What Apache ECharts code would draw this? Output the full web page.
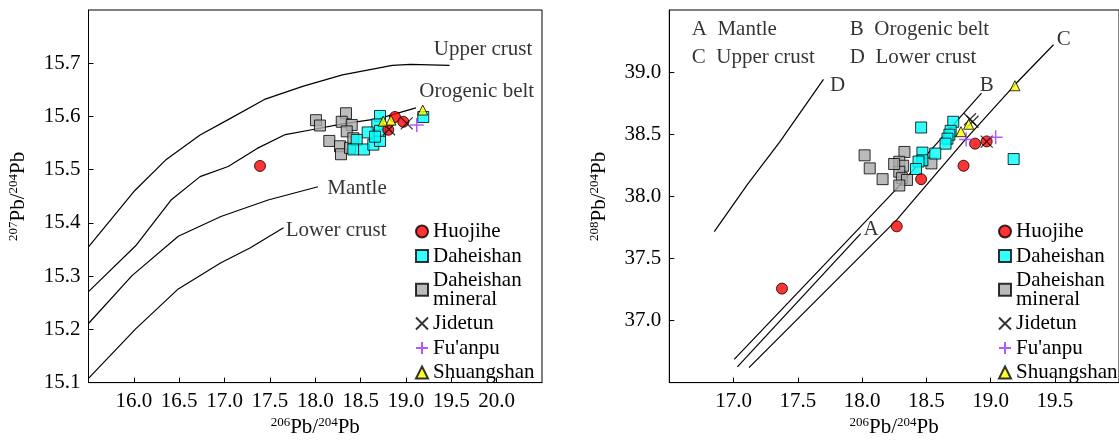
<!DOCTYPE html>
<html><head><meta charset="utf-8">
<script src="https://cdn.jsdelivr.net/npm/echarts@6/dist/echarts.min.js"></script>
<style>html,body{margin:0;padding:0;background:#fff}#c{width:1119px;height:443px}</style>
</head><body><div id="c"></div>
<script>
// ---- Left chart: 206Pb/204Pb vs 207Pb/204Pb ----
const upperCrustL = [[15.5,15.355],[16.0,15.459],[16.35,15.518],[16.73,15.565],[17.04,15.594],[17.44,15.632],[17.87,15.657],[18.30,15.678],[18.85,15.696],[19.05,15.698],[19.48,15.696]];
const orogeneL = [[15.5,15.271],[16.02,15.357],[16.41,15.443],[16.73,15.487],[17.04,15.506],[17.36,15.540],[17.67,15.566],[17.99,15.576],[18.30,15.586],[18.70,15.596],[19.11,15.616]];
const mantleL = [[15.5,15.211],[15.98,15.301],[16.49,15.375],[16.96,15.412],[17.48,15.443],[18.03,15.468]];
const lowerCrustL = [[15.5,15.108],[16.02,15.201],[16.49,15.276],[16.96,15.325],[17.28,15.353],[17.65,15.391]];
const curveLabelsL = [[19.85,15.726,'Upper crust'],[19.78,15.646,'Orogenic belt'],[18.46,15.465,'Mantle'],[18.23,15.385,'Lower crust']];

const huojiheL = [[17.391,15.507],[18.879,15.599],[18.971,15.590],[18.805,15.575]];
const daheishanL = [[18.714,15.601],[18.684,15.585],[18.578,15.570],[18.457,15.556],[18.42,15.538],[18.537,15.538],[18.64,15.547],[18.714,15.554],[18.714,15.573],[18.659,15.562],[19.191,15.599]];
const mineralL = [[18.008,15.593],[18.052,15.583],[18.339,15.606],[18.292,15.590],[18.402,15.584],[18.155,15.554],[18.347,15.572],[18.273,15.544],[18.284,15.529],[18.383,15.541],[18.42,15.559]];
const jidetunL = [[18.813,15.576],[19.008,15.587]];
const fuanpuL = [[19.119,15.584]];
const shuangshanL = [[19.185,15.612],[18.75,15.591],[18.835,15.593]];

// ---- Right chart: 206Pb/204Pb vs 208Pb/204Pb ----
const lineA = [[17.03,36.626],[17.99,37.70]];
const lineB = [[17.005,36.687],[18.08,37.854],[18.25,38.04],[18.93,38.83]];
const lineC = [[17.12,36.62],[18.27,37.81],[18.79,38.44],[19.20,38.91],[19.49,39.22]];
const lineD = [[16.85,37.716],[17.11,38.098],[17.36,38.438],[17.70,38.942]];
const lineLabelsR = [[18.07,37.73,'A'],[18.97,38.89,'B'],[19.57,39.26,'C'],[17.81,38.89,'D']];
const keyLabelsR = [[16.675,39.34,'A  Mantle'],[17.905,39.34,'B  Orogenic belt'],[16.675,39.12,'C  Upper crust'],[17.905,39.12,'D  Lower crust']];

const huojiheR = [[17.377,37.257],[18.27,37.758],[18.46,38.138],[18.79,38.246],[18.88,38.424],[18.97,38.442]];
const daheishanR = [[18.46,38.554],[18.71,38.60],[18.69,38.527],[18.68,38.496],[18.665,38.464],[18.65,38.424],[18.57,38.344],[18.47,38.352],[18.47,38.29],[18.44,38.28],[18.42,38.22],[19.18,38.30]];
const mineralR = [[18.02,38.33],[18.06,38.225],[18.16,38.138],[18.33,38.357],[18.29,38.278],[18.32,38.246],[18.29,38.198],[18.31,38.146],[18.35,38.132],[18.29,38.087],[18.54,38.265],[18.25,38.26]];
const jidetunR = [[18.84,38.62],[18.86,38.60],[18.97,38.44]];
const fuanpuR = [[18.81,38.458],[19.04,38.476]];
const shuangshanR = [[19.19,38.89],[18.83,38.58],[18.77,38.52]];

const legendNames = ['Huojihe','Daheishan','Daheishan\nmineral','Jidetun',"Fu'anpu",'Shuangshan'];

const F = 'Liberation Serif';
const XSYM = 'path://M0,0L10,10M10,0L0,10';
const PSYM = 'path://M5,0L5,10M0,5L10,5';

function nameStyle() {
  return {fontFamily: F, color: '#000', rich: {
    s: {fontFamily: F, color: '#000', fontSize: 13, lineHeight: 13, verticalAlign: 'top'},
    n: {fontFamily: F, color: '#000', fontSize: 21, lineHeight: 22}
  }};
}
function xAxis(idx, min, max, name) {
  return {gridIndex: idx, type: 'value', min: min, max: max, interval: 0.5,
    name: name, nameLocation: 'middle', nameGap: 30, nameTextStyle: nameStyle(),
    axisLine: {lineStyle: {color: '#000', width: 1}},
    axisTick: {inside: true, length: 5, lineStyle: {color: '#000'}},
    axisLabel: {showMinLabel: false, showMaxLabel: false, margin: 8, fontFamily: F, fontSize: 21, color: '#000',
      formatter: v => v.toFixed(1)},
    splitLine: {show: false}};
}
function yAxis(idx, min, max, interval, name, showMin) {
  return {gridIndex: idx, type: 'value', min: min, max: max, interval: interval,
    name: name, nameLocation: 'middle', nameGap: 59, nameRotate: 90, nameTextStyle: nameStyle(),
    axisLine: {lineStyle: {color: '#000', width: 1}},
    axisTick: {inside: true, length: 5, lineStyle: {color: '#000'}},
    axisLabel: {showMinLabel: showMin, showMaxLabel: false, margin: 8, fontFamily: F, fontSize: 21, color: '#000',
      formatter: v => v.toFixed(1)},
    splitLine: {show: false}};
}
function curve(idx, data) {
  return {type: 'line', xAxisIndex: idx, yAxisIndex: idx, data: data, smooth: false, symbol: 'none',
    lineStyle: {color: '#000', width: 1.2, join: 'round'}, silent: true, z: 1};
}
function textSeries(idx, data, align) {
  return {type: 'scatter', xAxisIndex: idx, yAxisIndex: idx, data: data, symbolSize: 1, silent: true,
    itemStyle: {color: 'rgba(0,0,0,0)'}, z: 3,
    label: {show: true, position: 'inside', align: align, verticalAlign: 'middle',
      formatter: p => p.value[2], fontFamily: F, fontSize: 21, color: '#000'}};
}
function pts(idx, name, data, kind) {
  const s = {type: 'scatter', name: name, xAxisIndex: idx, yAxisIndex: idx, data: data, silent: true};
  if (kind === 'circle') Object.assign(s, {symbol: 'circle', symbolSize: 11, z: 6, itemStyle: {color: '#ff0000', borderColor: '#000', borderWidth: 1}});
  if (kind === 'cyan') Object.assign(s, {symbol: 'rect', symbolSize: 11, z: 5, itemStyle: {color: '#00ffff', borderColor: '#000', borderWidth: 1}});
  if (kind === 'grey') Object.assign(s, {symbol: 'rect', symbolSize: 11, z: 4, itemStyle: {color: '#aaaaaa', borderColor: '#000', borderWidth: 1}});
  if (kind === 'x') Object.assign(s, {symbol: XSYM, symbolSize: 12, z: 7, itemStyle: {color: 'rgba(0,0,0,0)', borderColor: '#000', borderWidth: 1.2}});
  if (kind === 'plus') Object.assign(s, {symbol: PSYM, symbolSize: 14, z: 7, itemStyle: {color: 'rgba(0,0,0,0)', borderColor: '#a030ff', borderWidth: 1.5}});
  if (kind === 'tri') Object.assign(s, {symbol: 'triangle', symbolSize: 10, z: 8, itemStyle: {color: '#ffff00', borderColor: '#000', borderWidth: 1}});
  return s;
}
function legend(left) {
  return {orient: 'vertical', left: left, top: 221, padding: 0, itemGap: 3.5, itemWidth: 12, itemHeight: 12,
    data: legendNames, selectedMode: false,
    formatter: name => name.split('\n').map(s => '{a|' + s + '}').join('\n'),
    textStyle: {fontFamily: F, fontSize: 21, color: '#000',
      rich: {a: {fontFamily: F, fontSize: 21, color: '#000', lineHeight: 18.5}}}};
}

const nameX = '{s|206}{n|Pb/}{s|204}{n|Pb}';
const chart = echarts.init(document.getElementById('c'), null, {renderer: 'canvas'});
chart.setOption({
  animation: false,
  backgroundColor: '#fff',
  grid: [
    {left: 88.5, top: 10, width: 453.5, height: 378, show: true, borderColor: '#000', borderWidth: 1},
    {left: 669.3, top: 10, width: 455, height: 378, show: true, borderColor: '#000', borderWidth: 1}
  ],
  xAxis: [xAxis(0, 15.5, 20.5, nameX), xAxis(1, 16.5, 20.0, nameX)],
  yAxis: [yAxis(0, 15.1, 15.8, 0.1, '{s|207}{n|Pb/}{s|204}{n|Pb}', true), yAxis(1, 36.5, 39.5, 0.5, '{s|208}{n|Pb/}{s|204}{n|Pb}', false)],
  legend: [legend(415), legend(998)],
  series: [
    curve(0, upperCrustL), curve(0, orogeneL), curve(0, mantleL), curve(0, lowerCrustL),
    textSeries(0, curveLabelsL, 'center'),
    pts(0, 'Daheishan\nmineral', mineralL, 'grey'),
    pts(0, 'Daheishan', daheishanL, 'cyan'),
    pts(0, 'Huojihe', huojiheL, 'circle'),
    pts(0, 'Jidetun', jidetunL, 'x'),
    pts(0, "Fu'anpu", fuanpuL, 'plus'),
    pts(0, 'Shuangshan', shuangshanL, 'tri'),
    curve(1, lineA), curve(1, lineB), curve(1, lineC), curve(1, lineD),
    textSeries(1, lineLabelsR, 'center'),
    textSeries(1, keyLabelsR, 'left'),
    pts(1, 'Daheishan\nmineral', mineralR, 'grey'),
    pts(1, 'Daheishan', daheishanR, 'cyan'),
    pts(1, 'Huojihe', huojiheR, 'circle'),
    pts(1, 'Jidetun', jidetunR, 'x'),
    pts(1, "Fu'anpu", fuanpuR, 'plus'),
    pts(1, 'Shuangshan', shuangshanR, 'tri')
  ]
});
</script>
</body></html>
